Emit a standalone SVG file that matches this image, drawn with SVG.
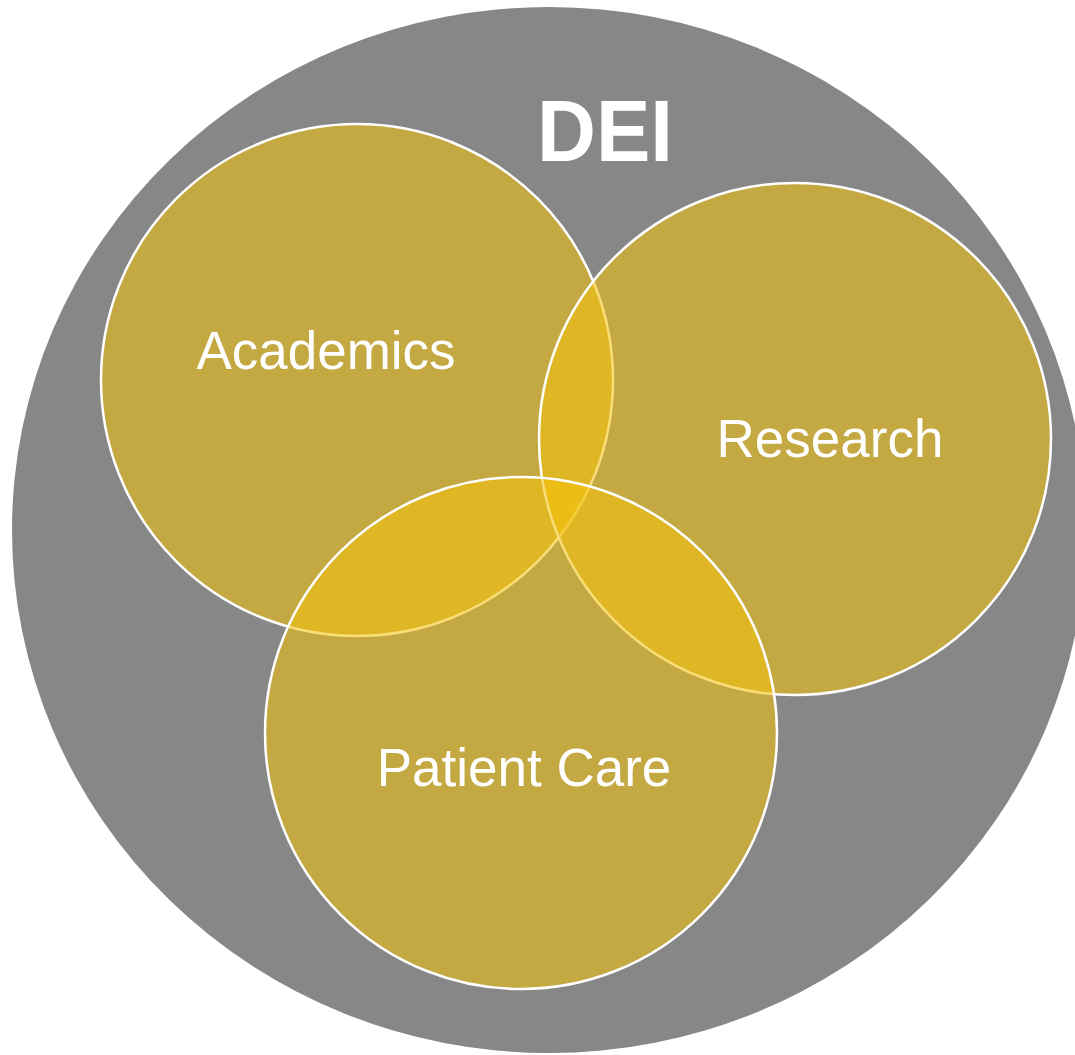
<svg xmlns="http://www.w3.org/2000/svg" width="1075" height="1055" viewBox="0 0 1075 1055">
<style>
.c{fill:#F5C20D;fill-opacity:0.56;stroke:#FFFFFF;stroke-width:2.5}
.t{font-family:"Liberation Sans",Arial,sans-serif;fill:#FFFFFF;text-anchor:middle}
</style>
<rect width="1075" height="1055" fill="#FFFFFF"/>
<g id="dei">
<ellipse cx="549" cy="530" rx="537" ry="523" fill="#878787"/>
<text class="t" x="605" y="161" font-size="88" font-weight="bold" textLength="136" lengthAdjust="spacingAndGlyphs">DEI</text>
</g>
<g id="academics">
<circle class="c" cx="357" cy="380" r="256"/>
</g>
<g id="research">
<circle class="c" cx="795" cy="439" r="256"/>
</g>
<g id="patient-care">
<circle class="c" cx="521" cy="733" r="256"/>
</g>
<g id="labels">
<text class="t" x="326" y="369" font-size="53">Academics</text>
<text class="t" x="830" y="457" font-size="53">Research</text>
<text class="t" x="524" y="786" font-size="53">Patient Care</text>
</g>
</svg>
